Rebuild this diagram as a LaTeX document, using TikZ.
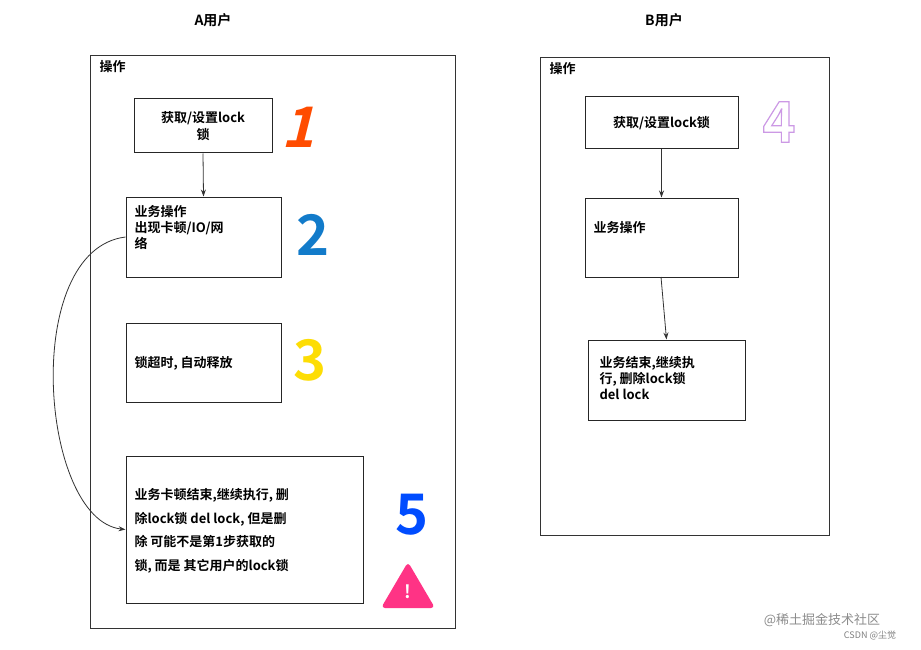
\documentclass[tikz,border=0pt]{standalone}
\usepackage{fontspec}
\setmainfont{Noto Sans CJK SC}
\newfontfamily\cjkb{Noto Sans CJK SC Bold}
\usetikzlibrary{arrows.meta}
\begin{document}
\begin{tikzpicture}[x=1pt,y=-1pt,
  frame/.style={draw=black!80,line width=0.9pt},
  box/.style={draw=black!85,line width=1pt},
  lbl/.style={font=\cjkb\fontsize{13}{16}\selectfont,align=left,anchor=north west},
  arr/.style={-{Stealth[length=7pt,width=5pt]},draw=black!80,line width=0.8pt},
  big/.style={font=\cjkb\fontsize{56}{56}\selectfont}]
\useasboundingbox[fill=white] (0,0) rectangle (921,650);
\node[font=\cjkb\fontsize{14}{16}\selectfont] (ta) at (213,20) {A用户};
\node[font=\cjkb\fontsize{14}{16}\selectfont] (tb) at (664,20) {B用户};
\draw[frame] (90,55) rectangle (455,628);
\node[lbl] (oa) at (96,57) {操作};
\draw[frame] (540,57) rectangle (829,535);
\node[lbl] (ob) at (546,59) {操作};
% A boxes
\node[box,minimum width=138pt,minimum height=54pt,align=center,font=\cjkb\fontsize{13}{17}\selectfont] (a1) at (203,126) {获取/设置lock\\锁};
\node[box,minimum width=155pt,minimum height=80pt] (a2) at (203.5,237) {};
\node[lbl] at (131,202) {业务操作\\出现卡顿/IO/网\\络};
\node[box,minimum width=155pt,minimum height=79pt] (a3) at (203.5,362.5) {};
\node[lbl,anchor=west] at (131,363) {锁超时, 自动释放};
\node[box,minimum width=237pt,minimum height=147pt] (a5) at (244.5,529.5) {};
\node[lbl,anchor=west,font=\cjkb\fontsize{13}{23.5}\selectfont] at (131,531) {业务卡顿结束,继续执行, 删\\除lock锁 del lock, 但是删\\除 可能不是第1步获取的\\锁, 而是 其它用户的lock锁};
\draw[arr] (a1.south) -- (a2.north);
\draw[arr] (a2.west) .. controls (20,250) and (40,520) .. (a5.west);
% B boxes
\node[box,minimum width=153pt,minimum height=52pt,font=\cjkb\fontsize{13}{16}\selectfont] (b1) at (661.5,123) {获取/设置lock锁};
\node[box,minimum width=153pt,minimum height=79pt] (b2) at (661.5,237.5) {};
\node[lbl,anchor=west] at (590,228) {业务操作};
\node[box,minimum width=157pt,minimum height=80pt] (b3) at (666.5,380) {};
\node[lbl,anchor=west] at (596,378) {业务结束,继续执\\行, 删除lock锁\\del lock};
\draw[arr] (b1.south) -- (b2.north);
\draw[arr] (661,277) -- (b3.north);
% digits
\node[big,text=orange!60!red,xslant=0.25] (n1) at (303,127) {1};
\node[big,text=cyan!60!blue] (n2) at (313,235) {2};
\node[big,text=yellow!80!orange] (n3) at (310,360) {3};
\node[big,text=blue!70!cyan] (n5) at (412,515) {5};
\node[big] (n4) at (779,122) {\special{pdf:literal 1 Tr 1.2 w 0.8 0.6 0.9 RG}4\special{pdf:literal 0 Tr}};
\fill[rounded corners=4pt,red!60!magenta!80] (381,608) -- (435,608) -- (408,562) -- cycle;
\node[text=white,font=\cjkb\fontsize{18}{18}\selectfont] (warn) at (408,592) {!};
\node[text=black!45,font=\fontsize{13}{15}\selectfont] (wm) at (822,620) {@稀土掘金技术社区};
\node[text=black!50,font=\fontsize{9}{10}\selectfont] (wm2) at (870,636) {CSDN @尘觉};
\end{tikzpicture}
\end{document}
